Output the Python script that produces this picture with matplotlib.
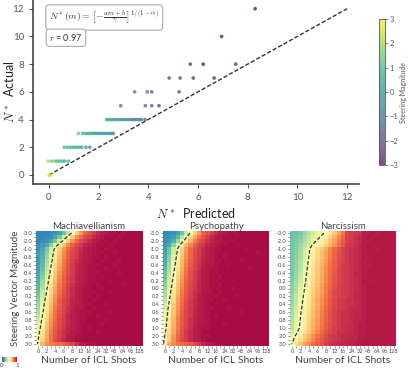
import numpy as np
import matplotlib
matplotlib.use('Agg')
import matplotlib.pyplot as plt
from matplotlib.colors import Normalize
import matplotlib.cm as cm

plt.rcParams['font.family'] = ['Lato', 'DejaVu Sans']
plt.rcParams['mathtext.fontset'] = 'cm'

# ---- top panel: predicted vs actual N* ----
pred_n = [0.0, 0.03, 0.08,
          -0.03, 0.11, 0.24, 0.34, 0.44, 0.55, 0.64, 0.78,
          0.62, 0.75, 0.87, 0.98, 1.09, 1.2, 1.32, 1.49, 1.65,
          1.19, 1.36, 1.48, 1.59, 1.7, 1.8, 1.9, 2.0, 2.1, 2.2, 2.3, 2.4, 2.5, 2.59,
          2.32, 2.42, 2.52, 2.62, 2.72, 2.82, 2.92, 3.02, 3.12, 3.22, 3.32, 3.42, 3.52, 3.62, 3.72, 3.87,
          2.89, 3.88, 4.14, 4.43,
          3.45, 3.96, 4.14, 5.24,
          4.84, 5.28, 5.81, 6.65,
          5.69, 6.21, 7.52,
          6.95,
          8.3]
actual_n = [0, 0, 0,
            1, 1, 1, 1, 1, 1, 1, 1,
            2, 2, 2, 2, 2, 2, 2, 2, 2,
            3, 3, 3, 3, 3, 3, 3, 3, 3, 3, 3, 3, 3, 3,
            4, 4, 4, 4, 4, 4, 4, 4, 4, 4, 4, 4, 4, 4, 4, 4,
            5, 5, 5, 5,
            6, 6, 6, 6,
            7, 7, 7, 7,
            8, 8, 8,
            10,
            12]
steer_mag = [3.0, 2.5, 2.5,
             2.0, 1.5, 1.5, 1.0, 1.0, 1.0, 0.9, 0.8,
             0.9, 0.8, 0.7, 0.6, 0.5, 0.4, 0.2, 0.0, -0.3,
             1.5, 0.6, 0.5, 0.4, 0.3, 0.2, 0.1, 0.0, -0.1, -0.2, -0.3, -0.4, -0.5, -0.6,
             0.3, 0.2, 0.1, 0.0, -0.1, -0.2, -0.3, -0.4, -0.5, -0.6, -0.7, -0.8, -0.9, -1.0, -1.0, -1.5,
             -1.0, -1.5, -1.5, -2.0,
             -1.0, -1.0, -1.5, -2.0,
             -2.0, -2.0, -2.5, -2.5,
             -2.5, -3.0, -2.5,
             -3.0,
             -3.0]

# ---- bottom panels: heatmaps ----
traits = ['Machiavellianism', 'Psychopathy', 'Narcissism']
shots = [0, 1, 2, 3, 4, 5, 6, 7, 8, 10, 12, 14, 16, 20, 24, 28, 32, 40, 48, 56, 64, 80, 96, 112, 128]
mags = [-3.0, -2.5, -2.0, -1.5, -1.0, -0.9, -0.8, -0.7, -0.6, -0.5, -0.4, -0.3, -0.2, -0.1, 0.0,
        0.1, 0.2, 0.3, 0.4, 0.5, 0.6, 0.7, 0.8, 0.9, 1.0, 1.5, 2.0, 2.5, 3.0]

mach_vals = [
    [10,10,10,11,12,14,21,35,51,63,73,81,86,90,93,95,96,97,97,98,97,98,98,98,98],
    [10,10,11,12,15,22,36,52,64,74,81,87,90,93,95,96,97,97,98,97,98,98,98,98,98],
    [10,11,12,15,22,36,52,64,74,81,87,90,93,95,96,97,97,98,97,98,98,98,98,98,98],
    [11,13,16,25,39,55,66,75,83,88,91,94,95,96,97,97,98,97,98,98,98,98,98,98,98],
    [12,15,22,36,52,64,74,81,87,90,93,95,96,97,97,98,97,98,98,98,98,98,98,98,98],
    [13,16,25,39,55,66,75,83,88,91,94,95,96,97,97,97,98,98,97,98,98,98,98,98,98],
    [13,17,27,42,57,67,76,83,88,91,94,95,96,97,97,98,97,98,98,98,98,98,98,98,98],
    [13,18,29,45,58,69,78,84,89,92,94,96,96,97,98,97,98,98,98,97,98,98,98,98,98],
    [14,19,32,48,61,71,79,85,90,93,95,96,97,97,97,98,98,98,97,98,98,98,98,98,98],
    [14,21,34,51,62,72,80,86,90,93,95,96,97,97,98,98,97,98,98,98,98,98,98,98,98],
    [15,22,36,52,64,74,81,87,90,93,95,96,97,97,97,98,98,98,98,97,98,98,98,98,98],
    [16,25,39,55,66,75,83,88,91,94,95,96,97,97,98,97,98,98,98,98,98,98,98,98,98],
    [17,27,42,57,67,76,83,88,91,94,95,96,97,97,98,98,98,97,98,98,98,98,98,98,98],
    [18,29,45,58,69,78,84,89,92,94,96,96,97,98,97,98,98,98,98,98,97,98,98,98,98],
    [19,32,48,61,71,79,85,90,93,95,96,97,97,98,98,97,98,98,98,98,98,98,98,98,98],
    [21,34,51,62,72,80,86,90,93,95,96,97,97,97,98,98,98,97,98,98,98,98,98,98,98],
    [22,36,52,64,74,81,87,90,93,95,96,97,97,98,97,98,98,98,98,98,98,97,98,98,98],
    [25,39,55,66,75,83,88,91,94,95,96,97,98,97,98,98,98,98,98,98,98,98,98,98,98],
    [27,42,57,67,76,83,88,91,94,95,96,97,97,98,98,98,97,98,98,98,98,98,98,98,98],
    [29,45,58,69,78,84,89,92,94,96,96,97,98,97,98,98,98,98,98,98,98,98,98,98,98],
    [31,47,60,70,79,85,89,92,95,96,97,97,97,98,98,98,98,97,98,98,98,98,98,98,98],
    [33,50,62,72,80,86,90,93,95,96,97,97,98,98,97,98,98,98,98,98,98,98,98,98,98],
    [36,52,64,74,81,87,90,93,95,96,97,97,98,98,98,98,97,98,98,98,98,98,98,98,98],
    [39,54,66,75,82,87,91,93,95,96,97,97,98,98,98,97,98,98,98,98,98,98,98,98,98],
    [41,56,67,76,83,88,91,94,95,96,97,98,97,98,98,98,98,98,98,98,98,98,98,98,98],
    [45,58,69,78,84,89,92,94,96,96,97,98,98,98,97,98,98,98,98,98,98,98,98,98,98],
    [47,60,70,79,85,89,92,95,96,97,97,98,98,98,98,98,98,98,98,98,98,98,98,98,98],
    [50,62,72,80,86,90,93,95,96,97,97,98,98,98,98,98,98,98,98,98,98,98,98,98,98],
    [52,68,74,77,79,80,82,84,88,92,95,96,97,97,98,98,98,98,98,98,98,98,98,98,98],
]
psych_vals = [
    [10,11,12,14,21,35,51,63,73,81,86,90,93,95,96,97,97,97,98,98,98,98,98,98,98],
    [11,12,14,19,32,48,61,71,79,85,90,93,95,96,97,97,98,97,98,98,98,98,98,98,98],
    [11,13,17,28,43,57,68,77,84,88,92,94,95,96,97,97,97,98,98,98,98,98,98,98,98],
    [13,16,26,41,56,67,76,83,88,91,94,95,96,97,97,98,98,97,98,98,98,98,98,98,98],
    [14,21,35,51,63,73,81,86,90,93,95,96,97,97,98,98,98,98,98,97,98,98,98,98,98],
    [15,22,36,52,64,74,81,87,90,93,95,96,97,97,97,98,98,98,98,98,98,98,97,98,98],
    [16,25,39,54,66,75,82,87,91,93,95,96,97,98,97,98,98,98,98,98,98,98,98,98,98],
    [16,26,41,56,67,76,83,88,91,94,95,96,97,97,98,98,98,98,97,98,98,98,98,98,98],
    [17,28,44,58,68,77,84,89,92,94,96,96,97,98,98,97,98,98,98,98,98,98,98,98,98],
    [18,30,47,60,70,78,85,89,92,95,96,97,97,98,98,98,98,98,98,98,97,98,98,98,98],
    [20,33,49,61,71,80,86,90,93,95,96,97,97,98,98,98,98,98,98,98,98,98,98,98,98],
    [21,35,51,63,73,81,86,90,93,95,96,97,98,97,98,98,98,98,98,98,98,98,98,98,98],
    [23,37,53,64,74,82,87,90,93,95,96,97,97,98,98,98,97,98,98,98,98,98,98,98,98],
    [25,39,55,66,75,83,88,91,94,95,96,97,98,97,98,98,98,98,98,98,98,98,98,98,98],
    [27,42,57,67,76,83,88,91,94,95,96,97,97,98,98,98,97,98,98,98,98,98,98,98,98],
    [29,45,58,69,78,84,89,92,94,96,96,97,98,97,98,98,98,98,98,98,98,98,98,98,98],
    [31,47,60,70,79,85,89,92,95,96,97,97,97,98,98,98,98,97,98,98,98,98,98,98,98],
    [33,50,62,72,80,86,90,93,95,96,97,97,98,98,97,98,98,98,98,98,98,98,98,98,98],
    [35,52,64,73,81,87,90,93,95,96,97,98,97,98,98,98,98,98,98,98,98,98,98,98,98],
    [38,53,65,74,82,87,91,93,95,96,97,97,98,98,98,97,98,98,98,98,98,98,98,98,98],
    [39,55,66,75,83,88,91,94,95,96,97,98,98,98,98,98,98,98,97,98,98,98,98,98,98],
    [41,56,67,76,83,88,91,94,95,96,97,98,97,98,98,98,98,98,98,98,98,98,98,98,98],
    [43,57,68,77,84,88,92,94,96,96,97,98,98,98,98,98,98,98,98,98,98,98,98,98,98],
    [45,58,69,78,84,89,92,94,96,96,97,98,98,98,97,98,98,98,98,98,98,98,98,98,98],
    [46,59,70,78,85,89,92,95,96,97,97,98,98,98,98,98,98,98,98,98,98,98,98,98,98],
    [49,61,71,80,86,90,93,95,96,97,98,98,98,98,98,98,98,98,98,98,98,98,98,98,98],
    [51,63,73,81,86,90,93,95,96,97,97,98,98,98,98,98,98,98,98,98,98,98,98,98,98],
    [53,64,74,82,87,90,93,95,96,97,98,98,98,98,98,98,98,98,98,98,98,98,98,98,98],
    [56,70,75,78,80,82,84,87,90,93,95,96,97,98,98,98,98,98,98,98,98,98,98,98,98],
]
narc_vals = [
    [21,21,23,28,33,37,41,45,50,57,64,72,79,88,90,91,92,95,95,96,95,96,96,96,96],
    [21,22,24,29,34,39,44,49,55,62,69,76,82,89,90,92,93,95,96,95,96,96,96,96,96],
    [22,23,26,31,36,42,48,54,60,66,72,78,83,89,91,92,93,95,95,96,96,96,96,96,96],
    [22,24,28,33,39,45,51,57,63,68,74,79,84,90,91,92,94,95,96,96,96,96,96,96,96],
    [22,24,29,37,47,55,61,66,71,76,81,85,89,91,92,93,94,95,96,96,95,96,96,96,96],
    [22,25,30,38,48,56,62,67,72,77,82,86,89,91,92,93,94,95,96,95,96,96,96,96,96],
    [22,25,30,38,48,56,62,67,72,77,82,86,89,91,92,93,94,96,95,96,96,96,96,96,96],
    [22,26,31,40,50,57,63,68,73,78,83,87,89,91,92,93,94,95,96,96,96,96,96,96,96],
    [23,26,32,41,50,58,64,69,74,79,83,87,90,91,92,93,94,95,95,96,96,96,96,96,96],
    [23,27,33,43,52,59,65,70,75,80,84,88,90,91,92,93,94,95,96,96,96,96,96,96,96],
    [23,27,34,43,52,59,65,70,75,80,84,88,90,91,92,94,94,95,96,96,96,96,96,96,96],
    [24,28,35,45,54,60,66,71,76,81,85,88,90,91,92,93,94,95,96,96,96,96,96,96,96],
    [24,29,36,46,54,61,66,71,76,81,85,88,90,91,92,93,94,96,96,95,96,96,96,96,96],
    [25,30,38,48,56,62,67,72,77,82,86,89,90,91,92,93,94,95,96,96,96,96,96,96,96],
    [25,31,39,49,57,63,68,73,78,82,86,89,90,91,92,93,94,95,96,96,96,96,96,96,96],
    [26,31,40,50,57,63,68,73,78,83,87,89,90,91,92,93,94,95,96,96,96,96,96,96,96],
    [27,33,41,51,58,64,69,74,79,83,87,89,90,91,92,94,94,95,96,96,96,96,96,96,96],
    [27,34,43,52,59,65,70,75,80,84,88,90,91,92,92,93,94,95,96,96,96,96,96,96,96],
    [28,35,44,53,60,65,70,75,80,84,88,90,91,92,92,93,94,95,96,96,96,96,96,96,96],
    [29,36,45,54,60,66,71,76,81,85,88,90,91,92,93,93,94,95,96,96,96,96,96,96,96],
    [30,37,47,55,61,67,72,77,82,86,89,91,92,92,93,94,94,95,96,96,96,96,96,96,96],
    [30,38,48,56,62,67,72,77,82,86,89,91,92,92,93,94,94,95,96,96,96,96,96,96,96],
    [31,39,49,57,63,68,73,78,82,86,89,91,92,92,93,94,94,95,96,96,96,96,96,96,96],
    [32,40,50,57,63,68,73,78,83,87,89,91,92,92,93,94,95,95,96,96,96,96,96,96,96],
    [33,41,50,58,64,69,74,79,83,87,90,91,92,93,93,94,95,95,96,96,96,96,96,96,96],
    [36,45,54,60,66,71,76,81,85,88,90,92,92,93,93,94,95,95,96,96,96,96,96,96,96],
    [41,50,58,64,69,74,79,83,87,90,91,92,93,93,94,94,95,95,96,96,96,96,96,96,96],
    [45,54,60,66,71,76,81,85,88,90,91,92,93,93,94,94,95,96,96,96,96,96,96,96,96],
    [48,58,66,72,76,80,83,86,89,91,92,93,93,94,94,95,95,96,96,96,96,96,96,96,96],
]
# predicted N* (in shots) for each steering magnitude row
mach_line = [7.9, 6.8, 5.8, 4.6, 3.8, 3.6, 3.45, 3.3, 3.1, 2.95, 2.8, 2.6, 2.45, 2.3, 2.1,
             1.95, 1.8, 1.6, 1.45, 1.3, 1.15, 1.0, 0.8, 0.65, 0.5, 0.3, 0.15, 0.0, -0.15]
psych_line = [5.9, 5.1, 4.4, 3.5, 2.9, 2.8, 2.65, 2.5, 2.35, 2.2, 2.05, 1.9, 1.75, 1.6, 1.45,
              1.3, 1.15, 1.0, 0.85, 0.7, 0.6, 0.5, 0.4, 0.3, 0.25, 0.05, -0.1, -0.25, -0.4]
narc_line = [7.5, 6.6, 5.6, 4.8, 4.15, 4.05, 3.95, 3.8, 3.7, 3.55, 3.45, 3.3, 3.2, 3.05, 2.9,
             2.8, 2.65, 2.5, 2.4, 2.25, 2.1, 2.0, 1.9, 1.8, 1.7, 1.25, 0.7, 0.3, -0.05]

W, H = 411, 370
fig = plt.figure(figsize=(W / 100, H / 100), dpi=100)

def px_axes(x0, y0, x1, y1):
    return fig.add_axes([x0 / W, 1 - y1 / H, (x1 - x0) / W, (y1 - y0) / H])

# scatter
ax = px_axes(33, 0, 359, 184)
sc = ax.scatter(pred_n, actual_n, c=steer_mag, cmap='viridis', vmin=-3, vmax=3,
                s=7, alpha=0.7, linewidths=0, zorder=3)
ax.plot([0, 12], [0, 12], ls='--', color='#333333', lw=1.0, dashes=(3, 1.5), zorder=2)
ax.set_xlim(-0.64, 12.48)
ax.set_ylim(-0.65, 12.63)
ax.set_xticks(range(0, 13, 2))
ax.set_yticks(range(0, 13, 2))
ax.tick_params(labelsize=7, colors='#555555', length=3, width=0.8)
for s in ['top', 'right']:
    ax.spines[s].set_visible(False)
for s in ['left', 'bottom']:
    ax.spines[s].set_color('#444444')
    ax.spines[s].set_linewidth(1.2)
ax.set_xlabel(r'$N^*$  Predicted', fontsize=9, color='#222222', labelpad=3)
ax.set_ylabel(r'$N^*$  Actual', fontsize=9, color='#222222')
ax.yaxis.set_label_coords(-0.052, 0.5)
bbox = dict(boxstyle='round,pad=0.35', facecolor='white', edgecolor='#aaaaaa', lw=0.8)
ax.text(0.05, 0.955, r'$N^*(m) = \left[-\frac{a\,m+b}{\gamma}\right]^{1/(1-\alpha)}$',
        transform=ax.transAxes, fontsize=7, va='top', ha='left', bbox=bbox, color='#333333')
ax.text(0.05, 0.825, r'$r$ = 0.97', transform=ax.transAxes, fontsize=6.5, va='top',
        ha='left', bbox=bbox, color='#333333')

cax = px_axes(379, 19, 385, 165)
cb = fig.colorbar(sc, cax=cax)
cb.set_ticks([-3, -2, -1, 0, 1, 2, 3])
cb.ax.tick_params(labelsize=5.5, colors='#555555', length=2, width=0.5, pad=1.5)
cb.outline.set_edgecolor('#555555')
cb.outline.set_linewidth(0.6)
cb.set_label('Steering Magnitude', fontsize=5, color='#555555', labelpad=1)

# heatmaps
data = [mach_vals, psych_vals, narc_vals]
lines = [mach_line, psych_line, narc_line]
lefts = [36, 163, 290]
norm = Normalize(0, 1)
for i, trait in enumerate(traits):
    hx = px_axes(lefts[i], 231, lefts[i] + 106, 346)
    arr = np.array(data[i]) / 100.0
    hx.imshow(arr, cmap='Spectral_r', norm=norm, aspect='auto',
              extent=(0, len(shots), len(mags), 0), interpolation='nearest')
    hx.plot(np.array(lines[i]) + 0.5, np.arange(len(mags)) + 0.5, ls='--', color='#333333',
            lw=0.9, dashes=(3, 1.5))
    hx.set_xlim(0, len(shots))
    hx.set_ylim(len(mags), 0)
    hx.set_xticks(np.arange(len(shots)) + 0.5)
    hx.set_xticklabels([str(s) if j % 2 == 0 else '' for j, s in enumerate(shots)])
    hx.set_yticks(np.arange(len(mags)) + 0.5)
    hx.set_yticklabels([f'{m:.1f}' if j % 2 == 0 else '' for j, m in enumerate(mags)])
    hx.tick_params(labelsize=4, colors='#444444', length=1.5, width=0.4, pad=1)
    for s in hx.spines.values():
        s.set_visible(False)
    hx.set_title(trait, fontsize=7, color='#444444', pad=1.5)
    hx.set_xlabel('Number of ICL Shots', fontsize=7.5, color='#444444', labelpad=1)
    if i == 0:
        hx.set_ylabel('Steering Vector Magnitude', fontsize=7, color='#444444', labelpad=2)

# small heatmap colorbar
hcax = px_axes(2, 357, 17, 362)
hcb = fig.colorbar(cm.ScalarMappable(norm=norm, cmap='Spectral_r'), cax=hcax,
                   orientation='horizontal')
hcb.set_ticks([0, 1])
hcb.ax.tick_params(labelsize=4.5, colors='#444444', length=0, pad=1)
hcb.outline.set_visible(False)

fig.savefig('out.png', dpi=100)
